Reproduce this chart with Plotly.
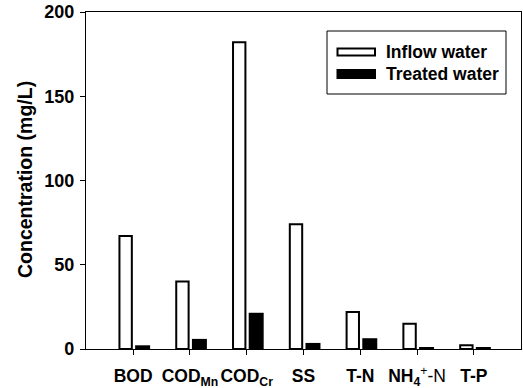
import plotly.graph_objects as go

categories = ["BOD", "COD_Mn", "COD_Cr", "SS", "T-N", "NH4+-N", "T-P"]
tick_labels = [
    "<b>BOD</b>",
    "<b>COD<sub>Mn</sub></b>",
    "<b>COD<sub>Cr</sub></b>",
    "<b>SS</b>",
    "<b>T-N</b>",
    "<b>NH<sub>4</sub></b><sup>+</sup>-N",
    "<b>T-P</b>",
]
inflow = [67, 40, 182, 74, 22, 15, 2.2]
treated = [2.2, 6, 21.5, 3.6, 6.4, 0.8, 1.2]
series_names = ["Inflow water", "Treated water"]
y_title = "Concentration (mg/L)"

positions = list(range(len(categories)))
FONT = "Liberation Sans, Arial, sans-serif"

fig = go.Figure()
fig.add_trace(go.Bar(
    x=positions, y=inflow, name=series_names[0],
    offset=-0.241, width=0.218,
    marker=dict(color="white", line=dict(color="black", width=2)),
    showlegend=False,
))
fig.add_trace(go.Bar(
    x=positions, y=treated, name=series_names[1],
    offset=0.035, width=0.264,
    marker=dict(color="black", line=dict(color="black", width=0)),
    showlegend=False,
))

# manual legend (paper coordinates; plot area spans px 86..521 x 12..349)
def px_x(p):
    return (p - 86) / 435.0

def px_y(p):
    return (349 - p) / 337.0

shapes = [
    dict(type="rect", xref="paper", yref="paper",
         x0=px_x(327), x1=px_x(506), y0=px_y(94), y1=px_y(31),
         line=dict(color="black", width=1), fillcolor="white", layer="above"),
    dict(type="rect", xref="paper", yref="paper",
         x0=px_x(337.5), x1=px_x(375), y0=px_y(55.5), y1=px_y(48.5),
         line=dict(color="black", width=2), fillcolor="white", layer="above"),
    dict(type="rect", xref="paper", yref="paper",
         x0=px_x(336.5), x1=px_x(376), y0=px_y(79), y1=px_y(69),
         line=dict(color="black", width=0), fillcolor="black", layer="above"),
]
annotations = [
    dict(xref="paper", yref="paper", x=px_x(384), y=px_y(52), xanchor="left",
         yanchor="middle", text="<b>" + series_names[0] + "</b>", showarrow=False,
         font=dict(family=FONT, size=17.5, color="black")),
    dict(xref="paper", yref="paper", x=px_x(384), y=px_y(74), xanchor="left",
         yanchor="middle", text="<b>" + series_names[1] + "</b>", showarrow=False,
         font=dict(family=FONT, size=17.5, color="black")),
    dict(xref="paper", yref="paper", x=px_x(25), y=px_y(180), xanchor="center",
         yanchor="middle", textangle=-90, text="<b>" + y_title + "</b>",
         showarrow=False, font=dict(family=FONT, size=19.5, color="black")),
]

fig.update_layout(
    width=523, height=388,
    margin=dict(l=86, r=2, t=12, b=39, autoexpand=False),
    paper_bgcolor="white", plot_bgcolor="white",
    font=dict(family=FONT, size=17, color="black"),
    barmode="overlay",
    shapes=shapes, annotations=annotations,
    showlegend=False,
)
fig.update_xaxes(
    range=[-0.83, 6.83], automargin=False,
    tickvals=positions, ticktext=tick_labels,
    showline=True, linecolor="black", linewidth=1.2, mirror=True,
    ticks="outside", ticklen=5, tickwidth=1.2, tickcolor="black",
    ticklabelstandoff=6,
    showgrid=False, zeroline=False,
    tickfont=dict(family=FONT, size=17.5, color="black"),
)
fig.update_yaxes(
    range=[0, 200], tickvals=[0, 50, 100, 150, 200], automargin=False,
    showline=True, linecolor="black", linewidth=1.2, mirror=True,
    ticks="outside", ticklen=5, tickwidth=1.2, tickcolor="black",
    ticklabelstandoff=2,
    showgrid=False, zeroline=False,
    tickfont=dict(family=FONT, size=18, color="black", weight="bold"),
)

# remove the default 8px body margin so the figure sits at the page origin
fig.write_html("out.html", config={"displayModeBar": False},
               post_script="document.body.style.margin='0px';")
